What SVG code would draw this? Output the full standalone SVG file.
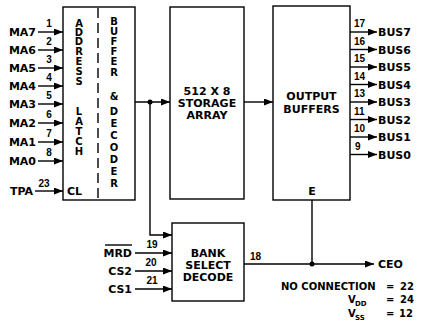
<svg xmlns="http://www.w3.org/2000/svg" width="423" height="328" viewBox="0 0 423 328">
<defs>
<marker id="ah" markerUnits="userSpaceOnUse" markerWidth="9" markerHeight="7" refX="9" refY="3.5" orient="auto">
<path d="M0,0 L9,3.5 L0,7 z" fill="#000"/>
</marker>
<style>
.box{fill:#fff;stroke:#000;stroke-width:1.4}
.ln{fill:none;stroke:#000;stroke-width:1.4}
.ar{fill:none;stroke:#000;stroke-width:1.4;marker-end:url(#ah)}
.t{font-family:"DejaVu Sans",sans-serif;font-weight:bold;font-size:11px;fill:#000}
.c{text-anchor:middle}
.e{text-anchor:end}
.v{font-family:"DejaVu Sans",sans-serif;font-weight:bold;font-size:10px;fill:#000;text-anchor:middle}
.n{font-family:"Liberation Sans",Arial,sans-serif;font-weight:bold;font-size:10px;fill:#000}
.m{font-family:"DejaVu Sans",sans-serif;font-weight:bold;font-size:10px;fill:#000}
.s{font-family:"DejaVu Sans",sans-serif;font-weight:bold;font-size:7px;fill:#000}
</style>
</defs>
<rect width="423" height="328" fill="#fff"/>

<g id="latch">
<rect class="box" x="63" y="7" width="72" height="193"/>
<line class="ln" x1="98" y1="8" x2="98" y2="199" stroke-dasharray="10,5"/>
<text class="v" x="79 79 79 79 79 79 79" y="27 36 45 55 65 75 85">ADDRESS</text>
<text class="v" x="79 79 79 79 79" y="115 125 135 145 155">LATCH</text>
<text class="v" x="114 114 114 114 114 114" y="25 35 45 55 65 76">BUFFER</text>
<text class="v" x="114" y="100">&amp;</text>
<text class="v" x="114 114 114 114 114 114 114" y="115 127 139 151 163 175 187">DECODER</text>
<text class="t" x="67" y="195">CL</text>
</g>

<g id="storage">
<rect class="box" x="170" y="7" width="74" height="192"/>
<text class="t c" x="207" y="95">512 X 8</text>
<text class="t c" x="207" y="107">STORAGE</text>
<text class="t c" x="207" y="119">ARRAY</text>
</g>

<g id="output">
<rect class="box" x="273" y="6" width="77" height="194"/>
<text class="t c" x="311.5" y="100">OUTPUT</text>
<text class="t c" x="311.5" y="113">BUFFERS</text>
<text class="t c" x="312" y="195">E</text>
</g>

<g id="bank">
<rect class="box" x="172" y="223" width="72" height="78"/>
<text class="t c" x="208" y="257">BANK</text>
<text class="t c" x="208" y="269">SELECT</text>
<text class="t c" x="208" y="281">DECODE</text>
</g>

<g id="connectors">
<line class="ar" x1="38" y1="32" x2="63" y2="32"/>
<line class="ar" x1="38" y1="50" x2="63" y2="50"/>
<line class="ar" x1="38" y1="68" x2="63" y2="68"/>
<line class="ar" x1="38" y1="86" x2="63" y2="86"/>
<line class="ar" x1="38" y1="104" x2="63" y2="104"/>
<line class="ar" x1="38" y1="123" x2="63" y2="123"/>
<line class="ar" x1="38" y1="142" x2="63" y2="142"/>
<line class="ar" x1="38" y1="161" x2="63" y2="161"/>
<line class="ar" x1="35" y1="191" x2="63" y2="191"/>

<line class="ar" x1="135" y1="102" x2="170" y2="102"/>
<circle cx="150" cy="102" r="2.5" fill="#000"/>
<polyline class="ar" points="150,102 150,235 172,235"/>
<line class="ar" x1="244" y1="102" x2="273" y2="102"/>

<line class="ar" x1="350" y1="32" x2="377" y2="32"/>
<line class="ar" x1="350" y1="49.5" x2="377" y2="49.5"/>
<line class="ar" x1="350" y1="67" x2="377" y2="67"/>
<line class="ar" x1="350" y1="84.5" x2="377" y2="84.5"/>
<line class="ar" x1="350" y1="102" x2="377" y2="102"/>
<line class="ar" x1="350" y1="119.5" x2="377" y2="119.5"/>
<line class="ar" x1="350" y1="137" x2="377" y2="137"/>
<line class="ar" x1="350" y1="154.5" x2="377" y2="154.5"/>

<line class="ar" x1="135" y1="253" x2="172" y2="253"/>
<line class="ar" x1="135" y1="271" x2="172" y2="271"/>
<line class="ar" x1="135" y1="289" x2="172" y2="289"/>

<line class="ln" x1="312" y1="200" x2="312" y2="264"/>
<line class="ar" x1="244" y1="264" x2="374" y2="264"/>
<circle cx="312" cy="264" r="2.5" fill="#000"/>
</g>

<g id="labels">
<text class="t e" x="36" y="36">MA7</text>
<text class="t e" x="36" y="54">MA6</text>
<text class="t e" x="36" y="72">MA5</text>
<text class="t e" x="36" y="90">MA4</text>
<text class="t e" x="36" y="108">MA3</text>
<text class="t e" x="36" y="127">MA2</text>
<text class="t e" x="36" y="146">MA1</text>
<text class="t e" x="36" y="165">MA0</text>
<text class="t e" x="33" y="195">TPA</text>
<text class="n c" x="49" y="27">1</text>
<text class="n c" x="49" y="45">2</text>
<text class="n c" x="49" y="63">3</text>
<text class="n c" x="49" y="81">4</text>
<text class="n c" x="49" y="99">5</text>
<text class="n c" x="49" y="118">6</text>
<text class="n c" x="49" y="137">7</text>
<text class="n c" x="49" y="156">8</text>
<text class="n c" x="44" y="187">23</text>

<text class="n" x="354" y="27">17</text>
<text class="n" x="354" y="44.5">16</text>
<text class="n" x="354" y="62">15</text>
<text class="n" x="354" y="79.5">14</text>
<text class="n" x="354" y="97">13</text>
<text class="n" x="354" y="114.5">11</text>
<text class="n" x="354" y="132">10</text>
<text class="n" x="355" y="149.5">9</text>
<text class="t" x="378" y="36">BUS7</text>
<text class="t" x="378" y="53.5">BUS6</text>
<text class="t" x="378" y="71">BUS5</text>
<text class="t" x="378" y="88.5">BUS4</text>
<text class="t" x="378" y="106">BUS3</text>
<text class="t" x="378" y="123.5">BUS2</text>
<text class="t" x="378" y="141">BUS1</text>
<text class="t" x="378" y="158.5">BUS0</text>

<text class="t e" x="132" y="257">MRD</text>
<line class="ln" x1="105" y1="245" x2="132" y2="245" stroke-width="1.2"/>
<text class="t e" x="132" y="275">CS2</text>
<text class="t e" x="132" y="293">CS1</text>
<text class="n c" x="152" y="248">19</text>
<text class="n c" x="151" y="266">20</text>
<text class="n c" x="152" y="284">21</text>
<text class="n" x="250" y="260">18</text>
<text class="t" x="378" y="268">CEO</text>

<text class="m" y="290"><tspan x="281">NO CONNECTION</tspan><tspan x="386">=</tspan><tspan x="400">22</tspan></text>
<text class="m" x="348" y="303">V</text>
<text class="s" x="355" y="306">DD</text>
<text class="m" y="303"><tspan x="386">=</tspan><tspan x="400">24</tspan></text>
<text class="m" x="348" y="317">V</text>
<text class="s" x="355" y="320">SS</text>
<text class="m" y="317"><tspan x="386">=</tspan><tspan x="399">12</tspan></text>
</g>
</svg>
